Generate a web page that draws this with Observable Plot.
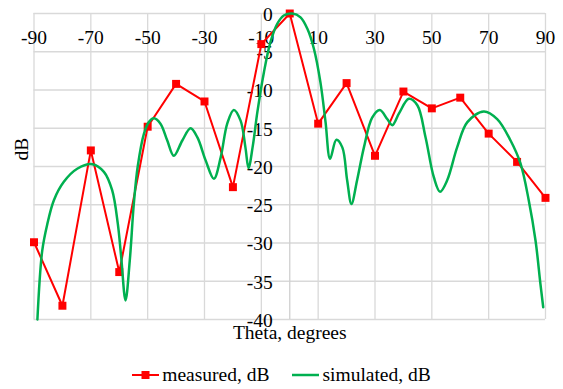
<!DOCTYPE html>
<html>
<head>
<meta charset="utf-8">
<script src="https://cdn.jsdelivr.net/npm/d3@7"></script>
<script src="https://cdn.jsdelivr.net/npm/@observablehq/plot@0.6"></script>
<style>
  html, body { margin: 0; padding: 0; background: #fff; }
  #wrap { position: relative; width: 563px; height: 389px; font-family: "Liberation Serif", "Times New Roman", serif; }
  #legend { position: absolute; left: 0; top: 362px; width: 563px; height: 26px; display: flex; justify-content: center; align-items: center; font-size: 19.5px; color: #000; }
  .item { display: flex; align-items: center; }
  .item + .item { margin-left: 23px; }
  .item svg { margin-right: 3px; }
</style>
</head>
<body>
<div id="wrap"><div id="chart"></div><div id="legend"></div></div>
<script>
const xTicks = [-90, -70, -50, -30, -10, 10, 30, 50, 70, 90];
const yTicks = [0, -5, -10, -15, -20, -25, -30, -35, -40];

const measTheta = [-90, -80, -70, -60, -50, -40, -30, -20, -10, 0, 10, 20, 30, 40, 50, 60, 70, 80, 90];
const measDb = [-29.9, -38.2, -17.9, -33.8, -14.8, -9.2, -11.5, -22.7, -4.0, 0, -14.4, -9.1, -18.6, -10.2, -12.4, -11.0, -15.7, -19.4, -24.1];

const simTheta = [-88.8, -87.1, -85.3, -83.0, -79.5, -74.8, -69.5, -65.4, -62.5, -60.5, -59.3, -57.8, -56.3, -54.9, -53.5, -51.3, -49.6, -47.8, -45.5, -43.1, -40.8, -37.8, -34.9, -32.5, -29.6, -26.7, -24.3, -22.0, -19.7, -17.3, -15.6, -14.5, -13.0, -11.4, -9.1, -6.8, -4.4, -2.1, 0.9, 3.8, 6.2, 8.5, 10.8, 12.6, 14.2, 16.4, 18.5, 20.2, 21.7, 23.7, 26.1, 29.0, 31.7, 34.3, 36.1, 38.4, 41.9, 44.9, 47.8, 50.7, 52.9, 55.4, 58.9, 62.5, 68.3, 73.0, 77.7, 81.2, 84.1, 86.5, 88.2, 89.2];
const simDb = [-40, -31.0, -27.5, -24.4, -22.0, -20.3, -19.7, -20.7, -23.1, -27.5, -31.9, -37.5, -32.3, -25.0, -20.0, -15.7, -14.2, -13.7, -14.4, -16.6, -18.6, -16.6, -15.0, -16.2, -19.2, -21.6, -18.8, -14.4, -12.6, -14.0, -17.5, -20.2, -17.3, -12.9, -7.7, -3.75, -1.35, -0.26, 0, -0.5, -2.0, -4.6, -9.0, -14.2, -19.0, -16.5, -17.5, -21.8, -24.9, -21.8, -17.5, -13.6, -12.6, -13.8, -14.6, -13.1, -11.15, -12.0, -16.2, -21.4, -23.3, -21.8, -17.5, -14.2, -12.8, -13.8, -16.6, -19.6, -24.4, -29.7, -35.3, -38.4];

const seriesNames = ["measured, dB", "simulated, dB"];
const seriesColors = ["#ff0000", "#00b050"];
const xTitle = "Theta, degrees";
const yTitle = "dB";

const measured = measTheta.map((t, i) => ({theta: t, db: measDb[i]}));
const simulated = simTheta.map((t, i) => ({theta: t, db: simDb[i]}));

const chart = Plot.plot({
  width: 563,
  height: 345,
  marginLeft: 33.5,
  marginRight: 18,
  marginTop: 13,
  marginBottom: 26,
  x: {domain: [-90, 90], axis: null},
  y: {domain: [-40, 0], axis: null},
  style: {fontFamily: "'Liberation Serif', 'Times New Roman', serif", fontSize: "19.5px", color: "#000", background: "#fff", overflow: "visible"},
  marks: [
    Plot.ruleY(yTicks, {y: d => d, stroke: "#d9d9d9", strokeWidth: 1.3, strokeOpacity: 1}),
    Plot.ruleX(xTicks, {x: d => d, stroke: "#d9d9d9", strokeWidth: 1.3, strokeOpacity: 1}),
    Plot.ruleX([0], {x: d => d, stroke: "#d0d0d0", strokeWidth: 1.3, strokeOpacity: 1}),
    Plot.text(yTicks, {x: () => 0, y: d => d, text: d => String(d), textAnchor: "end", dx: -17, dy: 1, fill: "#000"}),
    Plot.text(xTicks, {x: d => d, y: () => 0, text: d => String(d), dy: 24, fill: "#000"}),
    Plot.line(measured, {x: "theta", y: "db", stroke: seriesColors[0], strokeWidth: 2}),
    Plot.dot(measured, {x: "theta", y: "db", symbol: "square", r: 4.5, fill: seriesColors[0], stroke: "none"}),
    Plot.line(simulated, {x: "theta", y: "db", stroke: seriesColors[1], strokeWidth: 2.5, curve: "catmull-rom"}),
    Plot.text([xTitle], {frameAnchor: "bottom", lineAnchor: "top", dy: 6, fill: "#000"}),
    Plot.text([yTitle], {frameAnchor: "left", rotate: -90, dx: -12.5, dy: -6, fill: "#000"})
  ]
});
document.getElementById("chart").appendChild(chart);

const legend = document.getElementById("legend");
seriesNames.forEach((name, i) => {
  const item = document.createElement("div");
  item.className = "item";
  const sw = i === 0
    ? `<svg width="27" height="10"><line x1="0" y1="5" x2="27" y2="5" stroke="${seriesColors[i]}" stroke-width="2"/><rect x="9.5" y="1" width="8" height="8" fill="${seriesColors[i]}"/></svg>`
    : `<svg width="27" height="10"><line x1="0" y1="5" x2="27" y2="5" stroke="${seriesColors[i]}" stroke-width="2.5"/></svg>`;
  item.innerHTML = sw + `<span>${name}</span>`;
  legend.appendChild(item);
});
</script>
</body>
</html>
